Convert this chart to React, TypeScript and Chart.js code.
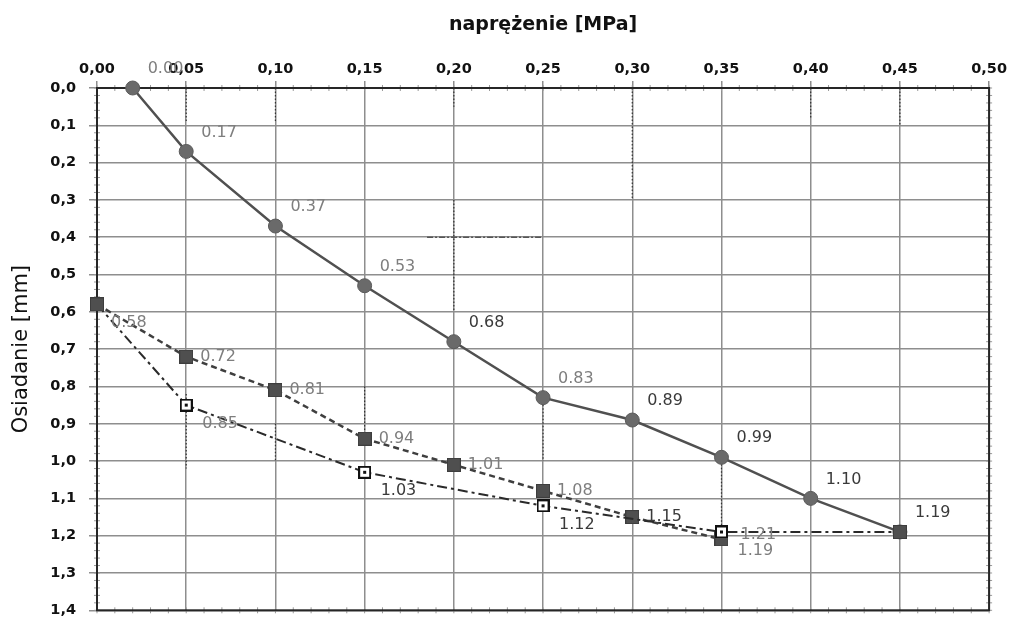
import React, { useEffect, useRef } from "react";
import { Chart, registerables } from "chart.js";

Chart.register(...registerables);

// ---- data ----
const xTickValues = [0, 0.05, 0.1, 0.15, 0.2, 0.25, 0.3, 0.35, 0.4, 0.45, 0.5];
const yTickValues = [0, 0.1, 0.2, 0.3, 0.4, 0.5, 0.6, 0.7, 0.8, 0.9, 1.0, 1.1, 1.2, 1.3, 1.4];

const s1X = [0.02, 0.05, 0.1, 0.15, 0.2, 0.25, 0.3, 0.35, 0.4, 0.45];
const s1Y = [0.0, 0.17, 0.37, 0.53, 0.68, 0.83, 0.89, 0.99, 1.1, 1.19];
const s1Labels = ["0.00", "0.17", "0.37", "0.53", "0.68", "0.83", "0.89", "0.99", "1.10", "1.19"];

const s2X = [0, 0.05, 0.1, 0.15, 0.2, 0.25, 0.3, 0.35];
const s2Y = [0.58, 0.72, 0.81, 0.94, 1.01, 1.08, 1.15, 1.21];
const s2Labels = ["0.58", "0.72", "0.81", "0.94", "1.01", "1.08", "1.15", "1.21"];

const s3X = [0, 0.05, 0.15, 0.25, 0.35, 0.45];
const s3Y = [0.58, 0.85, 1.03, 1.12, 1.19, 1.19];
const s3Labels = ["", "0.85", "1.03", "1.12", "1.19", ""];

// scan artefacts: dotted vertical segments [x, yFrom, yTo]
const dottedX = [0.05, 0.1, 0.2, 0.3, 0.4, 0.45, 0.05, 0.1, 0.15, 0.25, 0.35, 0.2];
const dottedFrom = [0, 0, 0.3, 0, 0, 0, 0.82, 0.9, 0.8, 0.83, 0.99, 0];
const dottedTo = [0.09, 0.09, 0.6, 0.3, 0.08, 0.1, 1.02, 1.0, 0.95, 1.0, 1.19, 0.05];

// ---- styles (not data) ----
const LIGHT = "#7e7e7e";
const DARK = "#3a3a3a";
const s1LabelColors = [LIGHT, LIGHT, LIGHT, LIGHT, DARK, LIGHT, DARK, DARK, DARK, DARK];
const s2LabelColors = [LIGHT, LIGHT, LIGHT, LIGHT, LIGHT, LIGHT, DARK, LIGHT];
const s3LabelColors = [LIGHT, LIGHT, DARK, DARK, LIGHT, LIGHT];
const FONT = "'DejaVu Sans', 'Liberation Sans', Arial, sans-serif";

function makeSquare(filled: boolean, size: number): HTMLCanvasElement {
  const c = document.createElement("canvas");
  c.width = size;
  c.height = size;
  const g = c.getContext("2d")!;
  if (filled) {
    g.fillStyle = "#4f4f4f";
    g.fillRect(0, 0, size, size);
    g.strokeStyle = "#3d3d3d";
    g.lineWidth = 1;
    g.strokeRect(0.5, 0.5, size - 1, size - 1);
  } else {
    g.fillStyle = "#ffffff";
    g.fillRect(0, 0, size, size);
    g.strokeStyle = "#111";
    g.lineWidth = 2;
    g.strokeRect(1, 1, size - 2, size - 2);
    g.fillStyle = "#111";
    g.fillRect(size / 2 - 1.5, size / 2 - 1.5, 3, 3);
  }
  return c;
}

const labelPlugin = {
  id: "pointLabels",
  afterDatasetsDraw(chart: any) {
    const ctx = chart.ctx;
    const cfg = [
      { labels: s1Labels, colors: s1LabelColors, off: s1Labels.map(() => [15, -19]) },
      {
        labels: s2Labels,
        colors: s2LabelColors,
        off: s2Labels.map((_, i) => (i === 0 ? [14, 18] : i === s2Labels.length - 1 ? [19, -5] : [14, 0])),
      },
      { labels: s3Labels, colors: s3LabelColors, off: s3Labels.map(() => [16, 19]) },
    ];
    ctx.save();
    ctx.font = "16px " + FONT;
    ctx.textAlign = "left";
    ctx.textBaseline = "middle";
    cfg.forEach((c, di) => {
      const meta = chart.getDatasetMeta(di);
      meta.data.forEach((pt: any, i: number) => {
        const t = c.labels[i];
        if (!t) return;
        ctx.fillStyle = c.colors[i];
        ctx.fillText(t, pt.x + c.off[i][0], pt.y + c.off[i][1]);
      });
    });
    ctx.restore();
  },
};

const framePlugin = {
  id: "frame",
  beforeDatasetsDraw(chart: any) {
    const { ctx, chartArea: a, scales } = chart;
    const xs = scales.x;
    const ys = scales.y;
    ctx.save();
    // minor ticks
    ctx.strokeStyle = "#9a9a9a";
    ctx.lineWidth = 1;
    for (let k = 0; k <= 50; k++) {
      const px = xs.getPixelForValue(k * 0.01);
      ctx.beginPath();
      ctx.moveTo(px, a.top - 3);
      ctx.lineTo(px, a.top + 3);
      ctx.stroke();
      ctx.beginPath();
      ctx.moveTo(px, a.bottom - 3);
      ctx.lineTo(px, a.bottom + 3);
      ctx.stroke();
    }
    for (let k = 0; k <= 70; k++) {
      const py = ys.getPixelForValue(k * 0.02);
      ctx.beginPath();
      ctx.moveTo(a.left - 3, py);
      ctx.lineTo(a.left + 3, py);
      ctx.stroke();
      ctx.beginPath();
      ctx.moveTo(a.right - 3, py);
      ctx.lineTo(a.right + 3, py);
      ctx.stroke();
    }
    // dotted artefacts
    ctx.strokeStyle = "#333";
    ctx.lineWidth = 1.2;
    ctx.setLineDash([1.5, 2]);
    dottedX.forEach((x, i) => {
      const px = xs.getPixelForValue(x);
      ctx.beginPath();
      ctx.moveTo(px, ys.getPixelForValue(dottedFrom[i]));
      ctx.lineTo(px, ys.getPixelForValue(dottedTo[i]));
      ctx.stroke();
    });
    // short dash-dot stroke near (0.2, 0.4)
    ctx.setLineDash([6, 2, 2, 2]);
    ctx.strokeStyle = "#555";
    ctx.lineWidth = 1.5;
    ctx.beginPath();
    ctx.moveTo(xs.getPixelForValue(0.185), ys.getPixelForValue(0.4));
    ctx.lineTo(xs.getPixelForValue(0.25), ys.getPixelForValue(0.4));
    ctx.stroke();
    ctx.setLineDash([]);
    // frame
    ctx.strokeStyle = "#262626";
    ctx.lineWidth = 2;
    ctx.strokeRect(a.left, a.top, a.right - a.left, a.bottom - a.top);
    ctx.restore();
  },
};

export default function App() {
  const ref = useRef<HTMLCanvasElement | null>(null);

  useEffect(() => {
    if (!ref.current) return;
    const filled = makeSquare(true, 14);
    const open = makeSquare(false, 13);
    const chart = new Chart(ref.current, {
      type: "line",
      data: {
        datasets: [
          {
            label: "s1",
            data: s1X.map((x, i) => ({ x, y: s1Y[i] })),
            borderColor: "#505050",
            borderWidth: 2.5,
            pointRadius: 7,
            pointBackgroundColor: "#6a6a6a",
            pointBorderColor: "#5a5a5a",
            pointBorderWidth: 1,
            pointStyle: "circle",
            fill: false,
            tension: 0,
            clip: false as any,
            order: 2,
          },
          {
            label: "s2",
            data: s2X.map((x, i) => ({ x, y: s2Y[i] })),
            borderColor: "#3f3f3f",
            borderWidth: 2.5,
            borderDash: [6, 4],
            pointStyle: filled as any,
            pointRadius: 7,
            fill: false,
            tension: 0,
            clip: false as any,
            order: 1,
          },
          {
            label: "s3",
            data: s3X.map((x, i) => ({ x, y: s3Y[i] })),
            borderColor: "#2a2a2a",
            borderWidth: 2,
            borderDash: [10, 4, 3, 4],
            pointStyle: s3X.map((_, i) => (i === 0 || i === s3X.length - 1 ? filled : open)) as any,
            pointRadius: 7,
            fill: false,
            tension: 0,
            clip: false as any,
            order: 0,
          },
        ],
      },
      options: {
        responsive: true,
        maintainAspectRatio: false,
        animation: false,
        layout: { padding: { left: 0, right: 19, top: 0, bottom: 7 } },
        plugins: { legend: { display: false }, tooltip: { enabled: false } },
        scales: {
          x: {
            type: "linear",
            position: "top",
            min: 0,
            max: 0.5,
            afterBuildTicks: (s: any) => {
              s.ticks = xTickValues.map((v) => ({ value: v }));
            },
            afterFit: (s: any) => {
              s.height = 88;
            },
            ticks: {
              callback: (v: any) => Number(v).toFixed(2).replace(".", ","),
              font: { family: FONT, size: 14.5, weight: "bold" },
              color: "#111",
              padding: 3,
              maxRotation: 0,
            },
            grid: { color: "#8e8e8e", lineWidth: 1.5, tickLength: 7 },
            border: { display: false },
            title: {
              display: true,
              text: "naprężenie [MPa]",
              font: { family: FONT, size: 19, weight: "bold" },
              color: "#111",
              padding: { top: 14, bottom: 0 },
            },
          },
          y: {
            type: "linear",
            position: "left",
            reverse: true,
            min: 0,
            max: 1.4,
            afterBuildTicks: (s: any) => {
              s.ticks = yTickValues.map((v) => ({ value: v }));
            },
            afterFit: (s: any) => {
              s.width = 97;
            },
            ticks: {
              callback: (v: any) => Number(v).toFixed(1).replace(".", ","),
              font: { family: FONT, size: 14.5, weight: "bold" },
              color: "#111",
              padding: 13,
            },
            grid: { color: "#8e8e8e", lineWidth: 1.5, tickLength: 8 },
            border: { display: false },
            title: {
              display: true,
              text: "Osiadanie [mm]",
              font: { family: FONT, size: 21 },
              color: "#111",
              padding: { top: 9, bottom: 0 },
            },
          },
        },
      },
      plugins: [framePlugin, labelPlugin],
    });
    return () => chart.destroy();
  }, []);

  return (
    <div style={{ position: "fixed", left: 0, top: 0, width: 1010, height: 632, background: "#fff" }}>
      <canvas ref={ref} />
    </div>
  );
}
